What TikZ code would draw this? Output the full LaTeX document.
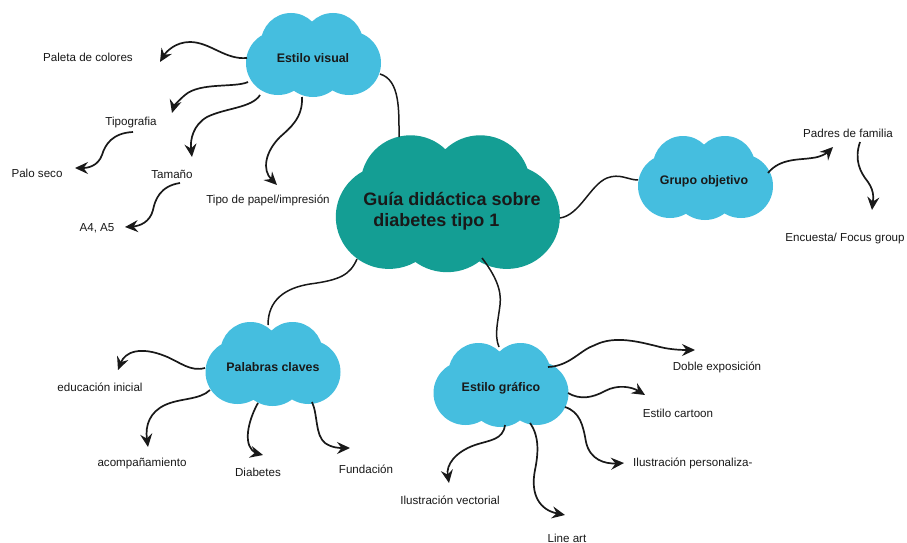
\documentclass[tikz,border=0pt]{standalone}
\usepackage{fontspec}
\setmainfont{Liberation Sans}
\usetikzlibrary{arrows.meta}
\definecolor{cloudblue}{RGB}{69,190,223}
\definecolor{cloudteal}{RGB}{20,158,148}
\definecolor{ink}{RGB}{25,25,25}
\newcommand\cloudfill[5]{%
 \begin{scope}[shift={(#1,#2)},xscale=#3,yscale=#4]
  \fill[#5] (-35,6) circle[radius=32] (-22,-14) circle[radius=30] (20,-14) circle[radius=30] (36,6) circle[radius=32] (0,8) circle[radius=32];
 \end{scope}}
\tikzset{
  lbl/.style={font=\fontsize{11.6}{14}\selectfont, text=ink, inner sep=0pt},
  ctitle/.style={font=\fontsize{12.4}{14}\selectfont\bfseries, text=ink, inner sep=0pt},
  arr/.style={-{Stealth[length=13pt,width=12pt,inset=4.5pt]}, line width=1.7pt, draw=ink},
  link/.style={line width=1.5pt, draw=ink}
}
\begin{document}
\begin{tikzpicture}[x=1pt,y=-1pt]
\fill[white] (0,0) rectangle (907,543);
\useasboundingbox (0,0) rectangle (907,543);

% clouds
\cloudfill{313}{57}{1}{1}{cloudblue}
\cloudfill{705}{180}{1}{1}{cloudblue}
\cloudfill{272.5}{366}{1}{1}{cloudblue}
\cloudfill{500.5}{387}{1}{1}{cloudblue}
\cloudfill{447}{207}{1.66}{1.63}{cloudteal}

% cloud texts
\node[ctitle] (ev) at (313,58) {Estilo visual};
\node[ctitle] (go) at (704,181) {Grupo objetivo};
\node[ctitle] (pc) at (273,367) {Palabras claves};
\node[ctitle] (eg) at (501,388) {Estilo gráfico};
\node[font=\fontsize{18}{21}\selectfont\bfseries, text=ink, inner sep=0pt, align=left] (gd) at (452,211) {Guía didáctica sobre\\\hspace{0.55em}diabetes tipo 1};

% labels
\node[lbl] (paleta) at (88,57) {Paleta de colores};
\node[lbl] (tipog) at (131,122) {Tipografia};
\node[lbl] (palo) at (37,173) {Palo seco};
\node[lbl] (tam) at (172,174) {Tamaño};
\node[lbl] (a4) at (97,228) {A4, A5};
\node[lbl] (papel) at (268,200) {Tipo de papel/impresión};
\node[lbl] (padres) at (848,133) {Padres de familia};
\node[lbl] (encu) at (845,238) {Encuesta/ Focus group};
\node[lbl] (edu) at (100,387) {educación inicial};
\node[lbl] (acomp) at (142,463) {acompañamiento};
\node[lbl] (diab) at (258,472) {Diabetes};
\node[lbl] (fund) at (366,469) {Fundación};
\node[lbl] (doble) at (717,367) {Doble exposición};
\node[lbl] (cart) at (678,413) {Estilo cartoon};
\node[lbl, anchor=west] (pers) at (633,463) {Ilustración personaliza-};
\node[lbl] (vect) at (450,500) {Ilustración vectorial};
\node[lbl] (line) at (567,538) {Line art};

% connector end points
\coordinate (ev1) at (247,58);  \coordinate (t1) at (160,62);
\coordinate (ev2) at (248,82);  \coordinate (t2) at (172,113);
\coordinate (ev3) at (260,95);  \coordinate (t3) at (192,157);
\coordinate (ev4) at (302,97);  \coordinate (t4) at (277,185);
\coordinate (tg1) at (133,132); \coordinate (t5) at (75,168);
\coordinate (tm1) at (180,183); \coordinate (t6) at (125,227);
\coordinate (ev5) at (380,74);  \coordinate (gd1) at (399,137);
\coordinate (gd2) at (560,218); \coordinate (go1) at (638,180);
\coordinate (go2) at (768,173); \coordinate (t9) at (833,147);
\coordinate (pa1) at (860,142); \coordinate (t10) at (872,210);
\coordinate (gd3) at (357,259); \coordinate (pc0) at (268,325);
\coordinate (pc1) at (205,368); \coordinate (t12) at (118,370);
\coordinate (pc2) at (210,390); \coordinate (t13) at (148,447);
\coordinate (pc3) at (258,403); \coordinate (t14) at (263,455);
\coordinate (pc4) at (312,402); \coordinate (t15) at (350,448);
\coordinate (gd4) at (482,258); \coordinate (eg0) at (499,347);
\coordinate (eg1) at (548,367); \coordinate (t17) at (695,350);
\coordinate (eg2) at (568,393); \coordinate (t18) at (645,395);
\coordinate (eg3) at (565,407); \coordinate (t19) at (624,463);
\coordinate (eg4) at (505,425); \coordinate (t20) at (449,483);
\coordinate (eg5) at (530,423); \coordinate (t21) at (565,515);

% links between clouds
\draw[link] (ev5) .. controls (400,80) and (399,110) .. (gd1);
\draw[link] (gd2) .. controls (580,215) and (590,185) .. (607,178) .. controls (620,173) and (628,180) .. (go1);
\draw[link] (gd3) .. controls (350,275) and (340,280) .. (310,284) .. controls (285,288) and (268,300) .. (pc0);
\draw[link] (gd4) .. controls (495,275) and (502,290) .. (500,305) .. controls (498,322) and (494,335) .. (eg0);

% arrows
\draw[arr] (ev1) .. controls (225,60) and (210,42) .. (190,42) .. controls (175,42) and (166,52) .. (t1);
\draw[arr] (ev2) .. controls (235,88) and (200,82) .. (185,95) .. controls (178,101) and (174,106) .. (t2);
\draw[arr] (ev3) .. controls (252,108) and (225,108) .. (207,117) .. controls (193,125) and (190,140) .. (t3);
\draw[arr] (ev4) .. controls (303,118) and (290,128) .. (280,137) .. controls (265,152) and (262,170) .. (t4);
\draw[arr] (tg1) .. controls (112,133) and (105,145) .. (102,155) .. controls (98,166) and (88,168) .. (t5);
\draw[arr] (tm1) .. controls (160,186) and (155,200) .. (153,210) .. controls (150,222) and (140,226) .. (t6);
\draw[arr] (go2) .. controls (780,158) and (800,160) .. (812,158) .. controls (822,157) and (828,152) .. (t9);
\draw[arr] (pa1) .. controls (854,160) and (860,172) .. (868,182) .. controls (875,192) and (873,200) .. (t10);
\draw[arr] (pc1) .. controls (190,372) and (180,362) .. (165,356) .. controls (140,346) and (125,352) .. (t12);
\draw[arr] (pc2) .. controls (200,400) and (180,398) .. (165,405) .. controls (150,412) and (145,425) .. (t13);
\draw[arr] (pc3) .. controls (250,417) and (243,440) .. (252,450) .. controls (255,453) and (259,454) .. (t14);
\draw[arr] (pc4) .. controls (318,415) and (315,435) .. (325,443) .. controls (332,448) and (340,448) .. (t15);
\draw[arr] (eg1) .. controls (570,366) and (580,350) .. (595,345) .. controls (615,335) and (640,342) .. (660,347) .. controls (672,350) and (685,350) .. (t17);
\draw[arr] (eg2) .. controls (580,400) and (592,398) .. (605,391) .. controls (618,384) and (632,387) .. (t18);
\draw[arr] (eg3) .. controls (580,412) and (583,425) .. (586,442) .. controls (590,460) and (605,464) .. (t19);
\draw[arr] (eg4) .. controls (503,440) and (490,440) .. (475,445) .. controls (455,452) and (446,465) .. (t20);
\draw[arr] (eg5) .. controls (540,437) and (538,455) .. (535,470) .. controls (530,495) and (540,510) .. (t21);
\end{tikzpicture}
\end{document}
